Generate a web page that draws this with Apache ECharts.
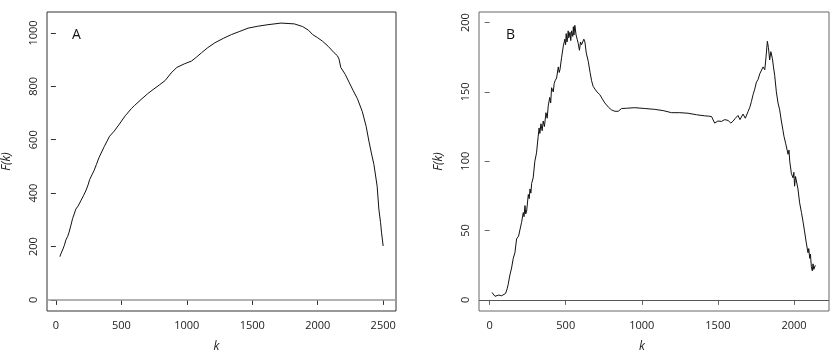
<!DOCTYPE html>
<html>
<head>
<meta charset="utf-8">
<script src="https://cdn.jsdelivr.net/npm/echarts@6/dist/echarts.min.js"></script>
<style>
  html, body { margin: 0; padding: 0; background: #fff; }
  #chart { width: 830px; height: 358px; }
</style>
</head>
<body>
<div id="chart"></div>
<script>
// panel A
var kA = [30, 40, 51, 65, 76, 90, 101, 115, 127, 140, 152, 170, 190, 210, 228, 245, 258, 275, 291, 310, 329, 370, 410, 445, 481, 530, 577, 590, 600, 658, 700, 734, 790, 835, 880, 924, 980, 1037, 1075, 1113, 1160, 1214, 1280, 1341, 1400, 1468, 1540, 1620, 1720, 1821, 1885, 1930, 1961, 2000, 2037, 2080, 2125, 2150, 2163, 2176, 2210, 2239, 2270, 2303, 2341, 2370, 2391, 2410, 2429, 2454, 2467, 2480, 2487, 2500];
var fA = [162, 175, 187, 205, 224, 238, 254, 280, 304, 322, 340, 352, 371, 390, 408, 430, 451, 468, 484, 508, 533, 575, 613, 632, 656, 690, 717, 720, 728, 754, 772, 785, 805, 822, 850, 871, 884, 895, 910, 926, 945, 963, 980, 994, 1005, 1018, 1025, 1031, 1037, 1034, 1024, 1010, 994, 982, 969, 950, 926, 915, 902, 871, 845, 816, 785, 754, 705, 650, 595, 550, 508, 426, 340, 290, 254, 202];
// panel B
var kB = [15, 35, 60, 79, 105, 115, 122, 133, 144, 155, 166, 177, 190, 199, 210, 221, 226, 232, 237, 243, 254, 260, 265, 271, 276, 286, 297, 308, 319, 325, 330, 337, 345, 352, 360, 370, 378, 385, 395, 401, 407, 418, 424, 430, 440, 451, 457, 462, 473, 484, 494, 499, 503, 508, 512, 516, 520, 528, 533, 538, 546, 550, 554, 560, 568, 575, 582, 590, 597, 604, 612, 619, 626, 635, 648, 660, 670, 680, 692, 705, 724, 740, 757, 780, 801, 823, 845, 867, 900, 954, 1020, 1085, 1140, 1195, 1250, 1304, 1360, 1414, 1440, 1458, 1479, 1500, 1523, 1545, 1567, 1585, 1600, 1615, 1632, 1645, 1665, 1680, 1698, 1710, 1720, 1731, 1742, 1753, 1764, 1775, 1786, 1797, 1808, 1816, 1825, 1832, 1840, 1848, 1858, 1865, 1873, 1884, 1895, 1906, 1917, 1928, 1934, 1939, 1945, 1950, 1961, 1967, 1972, 1983, 1994, 1999, 2004, 2010, 2015, 2026, 2037, 2049, 2060, 2070, 2081, 2092, 2097, 2103, 2108, 2114, 2120, 2125, 2130, 2136, 2140];
var fB = [5.4, 2.6, 3.5, 3, 4.7, 8, 11.3, 18, 23, 30, 34, 44, 46, 47, 56, 63, 60, 68, 62, 64, 76, 73, 80, 77, 84, 88, 100, 106, 118, 124, 120, 127, 122, 129, 125, 135, 131, 140, 146, 142, 153, 150, 156, 158, 160, 168, 164, 166, 175, 183, 188, 184, 192, 186, 188, 194, 189, 193, 187, 194, 190, 197, 191, 198, 191, 188, 185, 180, 186, 184, 183, 188, 186, 178, 172, 164, 158, 154, 152, 150, 148, 145, 142, 139, 137, 136, 136, 138, 138.2, 138.6, 138, 137.4, 136.5, 135, 135, 134.6, 133.5, 132.7, 132.5, 132.2, 127.5, 129, 128.7, 130, 129.4, 127.5, 129, 131, 133, 130, 134, 131, 135.8, 139, 143, 148, 152, 157, 159, 163, 162, 168, 166, 175, 186.5, 182, 173, 179, 174, 168, 162, 150, 142, 137, 129, 122, 118, 119, 113, 112, 105, 108, 100, 91, 88, 92, 82, 89, 90, 80, 70, 63, 56, 49, 41, 34, 37, 30, 33, 24, 21, 26, 22, 23, 25];

var xTicksA = [0, 500, 1000, 1500, 2000, 2500];
var yTicksA = [0, 200, 400, 600, 800, 1000];
var xTicksB = [0, 500, 1000, 1500, 2000];
var yTicksB = [0, 50, 100, 150, 200];

function pairs(xs, ys) {
    var out = [];
    for (var i = 0; i < xs.length; i++) out.push([xs[i], ys[i]]);
    return out;
}

var font = 'Open Sans';

// shift: pulls the "k" title left of the grid centre, as in the original
function xAxisCfg(idx, min, max, ticks, col, shift) {
    return {
        type: 'value', gridIndex: idx, min: min, max: max,
        name: 'k', nameLocation: 'middle', nameGap: 30,
        nameTextStyle: {fontFamily: font, fontSize: 12, fontStyle: 'italic', color: '#222',
            padding: [0, shift * 2, 0, 0]},
        axisLine: {show: false},
        axisTick: {show: true, length: 5, lineStyle: {color: col}, customValues: ticks},
        axisLabel: {fontFamily: font, fontSize: 11, color: '#222', margin: 9, customValues: ticks,
            formatter: function (v) { return String(v); }},
        splitLine: {show: false}
    };
}

function yAxisCfg(idx, min, max, ticks, col) {
    return {
        type: 'value', gridIndex: idx, min: min, max: max,
        name: 'F(k)', nameLocation: 'middle', nameGap: 34, nameRotate: 90,
        nameTextStyle: {fontFamily: font, fontSize: 12, fontStyle: 'italic', color: '#222'},
        axisLine: {show: false},
        axisTick: {show: true, length: 5, lineStyle: {color: col}, customValues: ticks},
        axisLabel: {fontFamily: font, fontSize: 11, color: '#222', margin: 8, rotate: 90, customValues: ticks,
            formatter: function (v) { return String(v); }},
        splitLine: {show: false}
    };
}

var myChart = echarts.init(document.getElementById('chart'), null, {renderer: 'canvas'});
var option = {
    animation: false,
    backgroundColor: '#fff',
    title: [
        {text: 'A', left: 72, top: 28, padding: 0, textStyle: {fontFamily: font, fontSize: 14, fontWeight: 'normal', color: '#111'}},
        {text: 'B', left: 506, top: 28, padding: 0, textStyle: {fontFamily: font, fontSize: 14, fontWeight: 'normal', color: '#111'}}
    ],
    grid: [
        {left: 44, top: 12, width: 352, height: 304, show: true, borderColor: '#333', borderWidth: 1, backgroundColor: 'transparent'},
        {left: 479, top: 12, width: 350, height: 304, show: true, borderColor: '#666', borderWidth: 1, backgroundColor: 'transparent'}
    ],
    xAxis: [
        xAxisCfg(0, -68, 2598, xTicksA, '#333', 5),
        xAxisCfg(1, -70, 2230, xTicksB, '#666', 12)
    ],
    yAxis: [
        yAxisCfg(0, -41.5, 1078.5, yTicksA, '#333'),
        yAxisCfg(1, -8, 207.6, yTicksB, '#666')
    ],
    series: [
        {
            type: 'line', xAxisIndex: 0, yAxisIndex: 0, data: pairs(kA, fA),
            showSymbol: false, lineStyle: {color: '#111', width: 1},
            markLine: {silent: true, symbol: 'none', label: {show: false},
                lineStyle: {color: '#999', width: 1.5, type: 'solid'}, data: [{yAxis: 0}]}
        },
        {
            type: 'line', xAxisIndex: 1, yAxisIndex: 1, data: pairs(kB, fB),
            showSymbol: false, lineStyle: {color: '#111', width: 1},
            markLine: {silent: true, symbol: 'none', label: {show: false},
                lineStyle: {color: '#555', width: 1, type: 'solid'}, data: [{yAxis: 0}]}
        }
    ]
};
myChart.setOption(option);
</script>
</body>
</html>
